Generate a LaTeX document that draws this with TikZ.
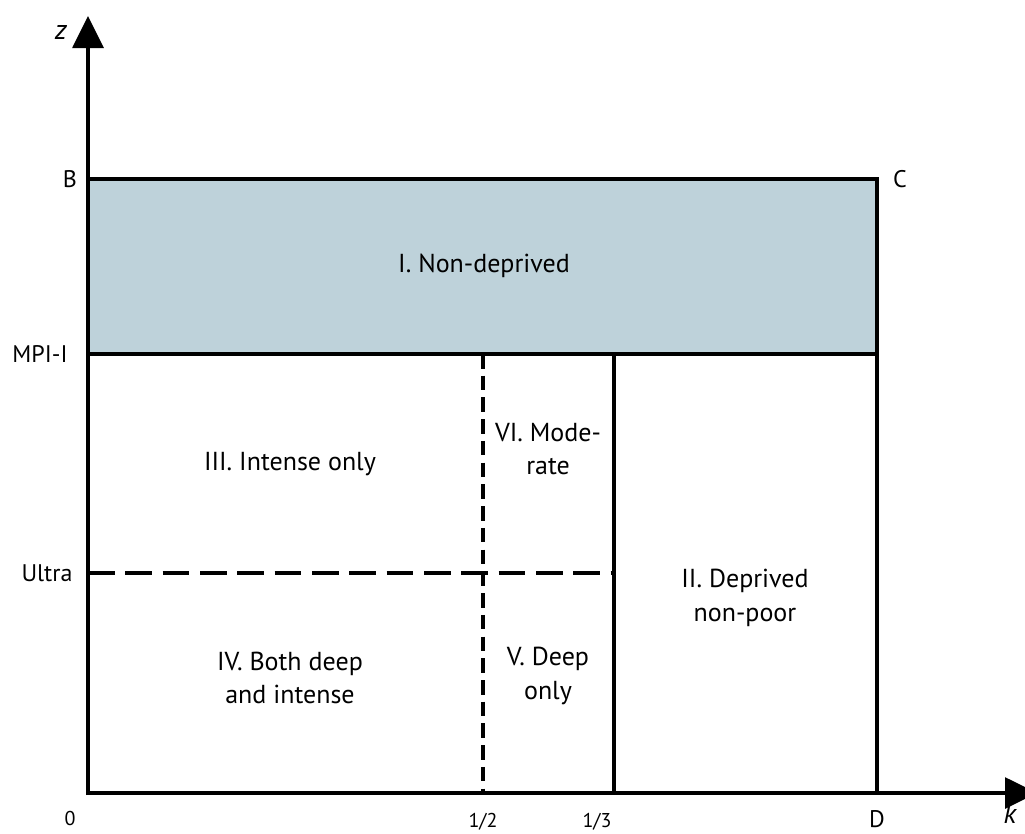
\documentclass[tikz,border=0pt]{standalone}
\usepackage{fontspec}
\setmainfont{PT Sans}
\usetikzlibrary{arrows.meta,positioning}
\definecolor{mygray}{RGB}{190,210,218}

\begin{document}
\begin{tikzpicture}[x=0.75pt,y=-0.75pt,inner sep=0pt]
\tikzstyle{axis}=[line width=3pt,-{Triangle[length=24pt,width=23pt]}]
\tikzstyle{border}=[line width=2.6pt]
\tikzstyle{longdash}=[line width=2.6pt,dash pattern=on 20pt off 8pt]
\tikzstyle{shortdash}=[line width=2.6pt,dash pattern=on 10.9pt off 5.4pt]
\tikzstyle{region}=[align=center,font=\fontsize{19.5}{25}\selectfont]
\tikzstyle{lab}=[font=\fontsize{18}{20}\selectfont]
\tikzstyle{axlab}=[font=\fontsize{21}{22}\selectfont\itshape]
\tikzstyle{tick}=[font=\fontsize{15}{16}\selectfont]
\useasboundingbox (0,0) rectangle (1025,833);
% corners
\coordinate (o) at (88,793);
\coordinate (b) at (88,179);
\coordinate (c) at (877,179);
\coordinate (d) at (877,793);
\coordinate (mpi) at (88,354);
\coordinate (mpir) at (877,354);
\coordinate (ultra) at (88,573);
\coordinate (half) at (483,793);
\coordinate (halft) at (483,354);
\coordinate (third) at (614,793);
\coordinate (thirdt) at (614,354);
\coordinate (ultrar) at (614,573);
% shaded band
\fill[mygray] (b) rectangle (mpir);
\draw[border] (b) -- (c) -- (d);
\draw[border] (mpi) -- (mpir);
\draw[border] (third) -- (thirdt);
\draw[longdash] (ultra) -- (ultrar);
\draw[shortdash] (halft) -- (half);
% axes
\draw[axis] (88,795) -- (88,16);
\draw[axis] (86,793) -- (1037,793);
% axis labels
\node[axlab] (zl) at (61,32) {z};
\node[axlab] (kl) at (1010,814) {k};
\node[lab] (bl) at (70,179) {B};
\node[lab] (cl) at (900,179) {C};
\node[lab] (dl) at (877,819) {D};
\node[lab] (mpil) at (40,354) {MPI-I};
\node[lab] (ultral) at (47,573) {Ultra};
\node[tick] (t0) at (70,818) {0};
\node[tick] (t1) at (483,822) {1/2};
\node[tick] (t2) at (597,822) {1/3};
% regions
\node[region] (r1) at (484,266) {I. Non-deprived};
\node[region] (r3) at (290,464) {III. Intense only};
\node[region] (r6) at (548,449) {VI. Mode-\\rate};
\node[region] (r2) at (745,598) {II. Deprived\\non-poor};
\node[region] (r4) at (290,678) {IV. Both deep\\and intense};
\node[region] (r5) at (548,676) {V. Deep\\only};
\end{tikzpicture}
\end{document}
